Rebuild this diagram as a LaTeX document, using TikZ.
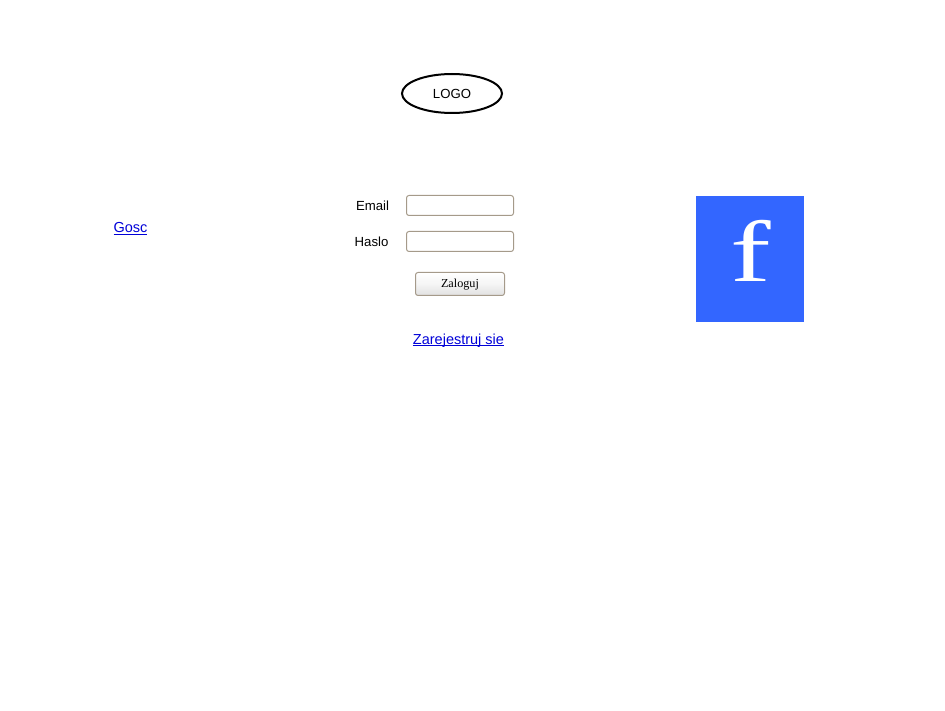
\documentclass[tikz,border=0pt]{standalone}
\usepackage{fontspec}
\setmainfont{Liberation Sans}
\newfontfamily\btnfont{Liberation Serif}
\usetikzlibrary{shapes.geometric}
\newcommand{\linktxt}[1]{\setbox0=\hbox{#1}\rlap{\rule[-2pt]{\wd0}{1pt}}\box0}
\definecolor{fieldedge}{HTML}{A59A8A}
\definecolor{linkblue}{HTML}{0000D8}
\definecolor{fbblue}{HTML}{3366FF}
\tikzset{
    label/.style={font=\fontsize{13.2}{16}\selectfont, inner sep=0pt},
    link/.style={font=\fontsize{14.5}{18}\selectfont, text=linkblue, inner sep=0pt},
    field/.style={draw=fieldedge, line width=1pt, rounded corners=2.5pt, minimum width=107pt, minimum height=20pt, inner sep=0pt},
}

\begin{document}
\begin{tikzpicture}[x=1pt,y=-1pt]
    \useasboundingbox (0,0) rectangle (945,711);
    \node [ellipse, draw, line width=2pt, minimum width=100pt, minimum height=39pt, inner sep=0pt, label] (logo) at (452,93.5) {\smash{\raisebox{-5pt}{LOGO}}};

    \node [link] (gosc) at (130.5,228.5) {\linktxt{Gosc}};

    \node [label] (emailtxt) at (372.5,205.5) {Email};
    \node [field] (email) at (460,205.5) {};
    \node [label] (haslotxt) at (371.5,241.5) {Haslo};
    \node [field] (haslo) at (460,241.5) {};

    \node [draw=fieldedge, line width=1pt, rounded corners=2.5pt, top color=white, bottom color=black!12, middle color=black!4, minimum width=89pt, minimum height=23pt, inner sep=0pt, font=\btnfont\fontsize{12.2}{15}\selectfont] (zaloguj) at (460,284) {\smash{\raisebox{-4pt}{Zaloguj}}};

    \node [link] (zarejestruj) at (458.5,340.5) {\linktxt{Zarejestruj sie}};

    \node [fill=fbblue, minimum width=108pt, minimum height=126pt, inner sep=0pt] (fb) at (750,259) {};
    \node [text=white, inner sep=0pt, xscale=1.4, font=\btnfont\fontsize{87}{87}\selectfont] (fbf) at (750.5,250.5) {f};
\end{tikzpicture}
\end{document}
